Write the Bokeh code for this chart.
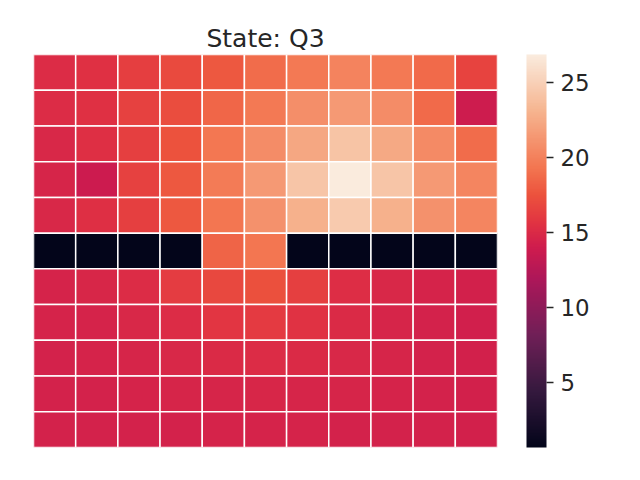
import numpy as np
from bokeh.plotting import figure
from bokeh.models import ColumnDataSource, LinearColorMapper, ColorBar, FixedTicker
from bokeh.embed import file_html
from bokeh.resources import INLINE

title_text = "State: Q3"

# heatmap values, row 0 = top row
values = [
    [15.2, 15.5, 16.3, 17.0, 17.8, 18.8, 19.6, 20.2, 19.6, 18.7, 16.6],
    [15.1, 15.5, 16.5, 17.2, 18.5, 19.6, 20.8, 21.5, 20.7, 18.7, 13.9],
    [14.8, 15.4, 16.4, 17.5, 19.5, 20.7, 22.3, 24.2, 22.4, 20.6, 18.8],
    [14.6, 13.8, 16.5, 17.8, 19.7, 21.5, 24.3, 26.9, 24.3, 21.5, 20.3],
    [14.8, 15.4, 16.4, 17.8, 19.4, 21.0, 22.9, 24.6, 22.9, 21.0, 20.3],
    [0.63, 0.63, 0.63, 0.63, 18.4, 19.4, 0.63, 0.63, 0.63, 0.63, 0.63],
    [14.5, 14.7, 15.2, 16.2, 16.9, 17.4, 16.4, 15.3, 14.8, 14.5, 14.3],
    [14.5, 14.5, 14.8, 15.1, 15.8, 16.1, 15.6, 15.0, 14.6, 14.4, 14.2],
    [14.4, 14.5, 14.6, 14.8, 15.0, 15.1, 15.0, 14.8, 14.6, 14.4, 14.3],
    [14.4, 14.4, 14.5, 14.6, 14.6, 14.7, 14.6, 14.6, 14.5, 14.4, 14.3],
    [14.4, 14.4, 14.4, 14.4, 14.5, 14.5, 14.5, 14.4, 14.4, 14.4, 14.3],
]
cbar_ticks = [5, 10, 15, 20, 25]
vmin, vmax = 0.63, 26.9

# rocket colormap anchors (seaborn)
anchor_pos = [0.0, 1/7, 2/7, 3/7, 0.5, 0.524, 4/7, 0.643, 5/7, 6/7, 1.0]
anchor_hex = ["#03051a", "#35193e", "#701f57", "#ad1759", "#cb1b4f", "#d3214b",
              "#e13342", "#ec523d", "#f37651", "#f6b48f", "#faebdd"]

def hex2rgb(h):
    return [int(h[i:i+2], 16) for i in (1, 3, 5)]

rgb = np.array([hex2rgb(h) for h in anchor_hex], dtype=float)
tt = np.linspace(0, 1, 256)
pal = []
for t in tt:
    r = np.interp(t, anchor_pos, rgb[:, 0])
    g = np.interp(t, anchor_pos, rgb[:, 1])
    b = np.interp(t, anchor_pos, rgb[:, 2])
    pal.append("#%02x%02x%02x" % (int(round(r)), int(round(g)), int(round(b))))

nrows = len(values)
ncols = len(values[0])
xs, ys, vs = [], [], []
for i, row in enumerate(values):
    for j, v in enumerate(row):
        xs.append(j + 0.5)
        ys.append(i + 0.5)
        vs.append(v)
src = ColumnDataSource(dict(x=xs, y=ys, v=vs))

mapper = LinearColorMapper(palette=pal, low=vmin, high=vmax)

p = figure(width=640, height=480, output_backend="svg", toolbar_location=None,
           x_range=(0, ncols), y_range=(nrows, 0),
           min_border_left=33, min_border_right=143, min_border_top=54, min_border_bottom=33)
p.title.text = title_text
p.title.align = "center"
p.title.text_font = "DejaVu Sans"
p.title.text_font_size = "25px"
p.title.text_font_style = "normal"
p.title.text_color = "#262626"
p.title.standoff = 3

p.rect(x="x", y="y", width=1, height=1, source=src,
       fill_color={"field": "v", "transform": mapper},
       line_color="white", line_width=1.5)

p.axis.visible = False
p.grid.visible = False
p.outline_line_color = None

cb = ColorBar(color_mapper=mapper, width=20, height=393,
              ticker=FixedTicker(ticks=cbar_ticks),
              padding=0, margin=0, location=(29, 0),
              major_tick_out=7, major_tick_in=0, major_tick_line_color="#262626",
              major_tick_line_width=1.5, minor_tick_line_color=None,
              major_label_text_font="DejaVu Sans", major_label_text_font_size="22.9px",
              major_label_text_color="#262626", label_standoff=7,
              bar_line_color=None, border_line_color=None, background_fill_color=None)
p.add_layout(cb, "right")

open("out.html", "w").write(file_html(p, INLINE))
